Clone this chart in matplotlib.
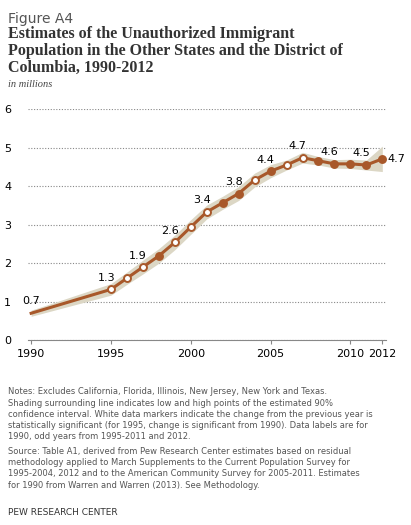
import matplotlib
matplotlib.use("Agg")
import matplotlib.pyplot as plt

years = [1990, 1995, 1996, 1997, 1998, 1999, 2000, 2001, 2002, 2003, 2004,
         2005, 2006, 2007, 2008, 2009, 2010, 2011, 2012]
values = [0.7, 1.32, 1.61, 1.9, 2.19, 2.54, 2.94, 3.33, 3.57, 3.81, 4.16,
          4.39, 4.55, 4.74, 4.66, 4.58, 4.58, 4.55, 4.71]
low = [0.62, 1.17, 1.45, 1.72, 2.0, 2.35, 2.75, 3.15, 3.4, 3.63, 3.98,
       4.22, 4.42, 4.6, 4.55, 4.47, 4.46, 4.42, 4.38]
high = [0.78, 1.47, 1.77, 2.08, 2.38, 2.73, 3.13, 3.51, 3.74, 3.99, 4.34,
        4.56, 4.68, 4.88, 4.77, 4.69, 4.7, 4.68, 5.04]
significant = [False, True, True, True, False, True, True, True, False, False, True,
               False, True, True, False, False, False, False, False]
labelled = {1990: "0.7", 1995: "1.3", 1997: "1.9", 1999: "2.6", 2001: "3.4",
            2003: "3.8", 2005: "4.4", 2007: "4.7", 2009: "4.6", 2011: "4.5", 2012: "4.7"}

brown = "#a8582a"
fig = plt.figure(figsize=(4.11, 5.25), dpi=100)
ax = fig.add_axes([0.068, 0.352, 0.87, 0.44])

ax.fill_between(years, low, high, color="#dcd7c5", lw=0)
ax.plot(years, values, color=brown, lw=2.2, zorder=3)
for y, v, s in zip(years[1:], values[1:], significant[1:]):
    ax.plot(y, v, "o", ms=5, mfc="white" if s else brown,
            mec=brown, mew=1.4, zorder=4)
for y, v in zip(years, values):
    if y in labelled:
        if y == 2012:
            ax.text(y + 0.3, v, labelled[y], fontsize=8, va="center", ha="left", clip_on=False)
        elif y == 1990:
            ax.text(y, v + 0.2, labelled[y], fontsize=8, ha="center", va="bottom")
        else:
            ax.text(y - 0.3, v + 0.17, labelled[y], fontsize=8, ha="center", va="bottom")

ax.set_xlim(1989.8, 2012.2)
ax.set_ylim(0, 6)
ax.set_yticks(range(7))
ax.set_xticks([1990, 1995, 2000, 2005, 2010, 2012])
ax.tick_params(labelsize=8, length=0)
ax.tick_params(axis="y", pad=12)
ax.tick_params(axis="x", length=3, color="#888888")
ax.yaxis.grid(True, ls=(0, (1, 1.5)), color="#888888", lw=0.8)
for s in ["top", "right", "left"]:
    ax.spines[s].set_visible(False)
ax.spines["bottom"].set_color("#888888")
ax.set_axisbelow(True)

fig.text(0.02, 0.978, "Figure A4", fontsize=10, color="#555555", va="top")
fig.text(0.02, 0.95, "Estimates of the Unauthorized Immigrant\nPopulation in the Other States and the District of\nColumbia, 1990-2012",
         fontsize=11.5, family="Liberation Serif", weight="bold", color="#333333", va="top", linespacing=1.05)
fig.text(0.02, 0.848, "in millions", fontsize=7.5, style="italic", family="Liberation Serif", color="#444444", va="top")

notes = ("Notes: Excludes California, Florida, Illinois, New Jersey, New York and Texas.\n"
         "Shading surrounding line indicates low and high points of the estimated 90%\n"
         "confidence interval. White data markers indicate the change from the previous year is\n"
         "statistically significant (for 1995, change is significant from 1990). Data labels are for\n"
         "1990, odd years from 1995-2011 and 2012.")
source = ("Source: Table A1, derived from Pew Research Center estimates based on residual\n"
          "methodology applied to March Supplements to the Current Population Survey for\n"
          "1995-2004, 2012 and to the American Community Survey for 2005-2011. Estimates\n"
          "for 1990 from Warren and Warren (2013). See Methodology.")
fig.text(0.02, 0.262, notes, fontsize=6.0, color="#555555", va="top", linespacing=1.3)
fig.text(0.02, 0.148, source, fontsize=6.0, color="#555555", va="top", linespacing=1.3)
fig.text(0.02, 0.032, "PEW RESEARCH CENTER", fontsize=6.5, color="#333333", va="top")

fig.savefig("out.png", dpi=100)
